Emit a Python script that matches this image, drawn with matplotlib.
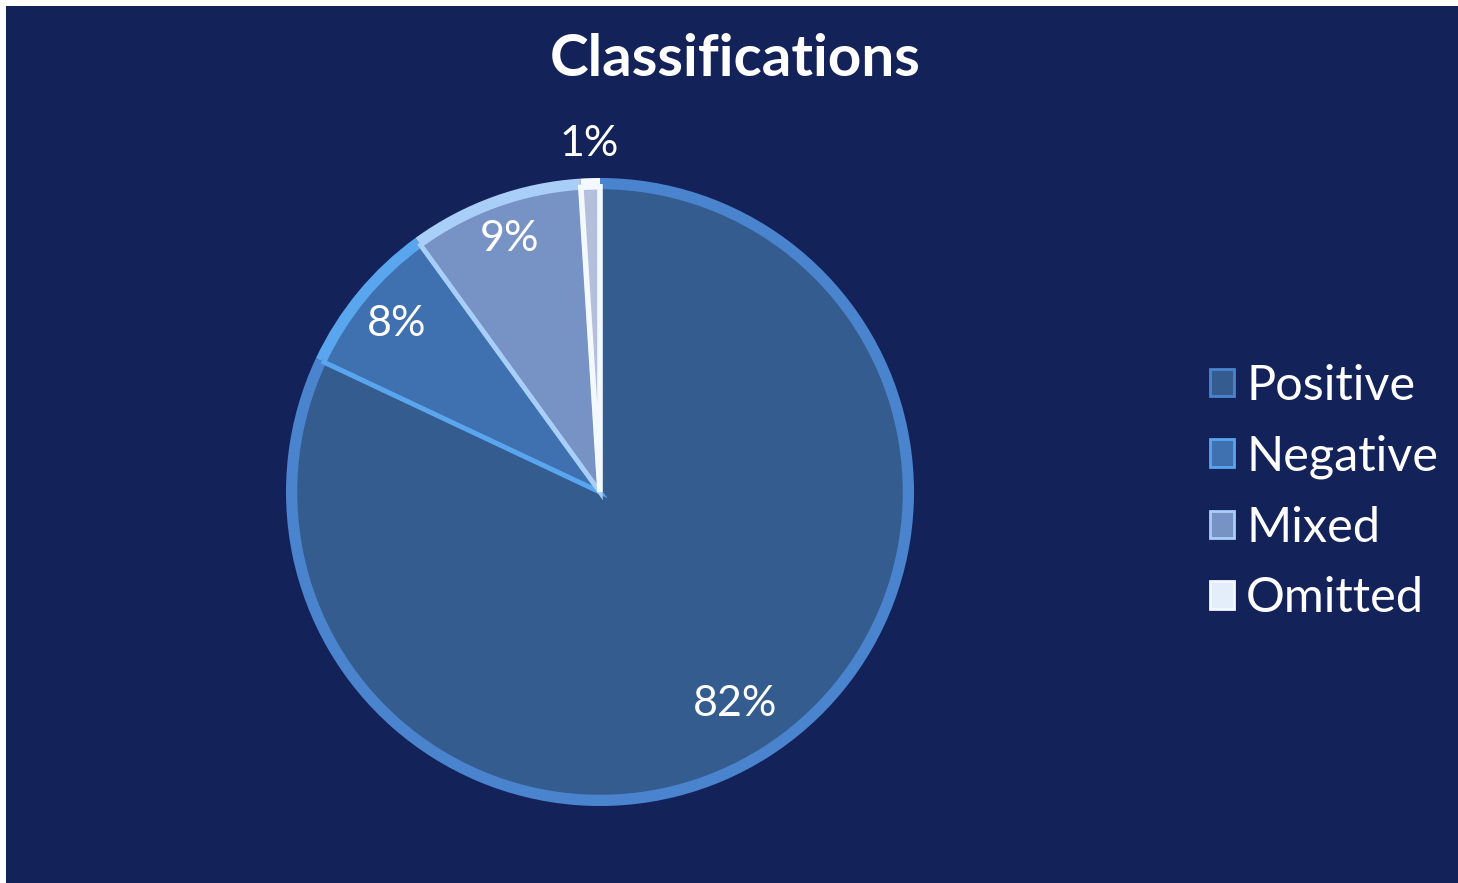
import numpy as np
import matplotlib.pyplot as plt
from matplotlib.patches import Patch, Rectangle

# share of each classification
categories = ["Positive", "Negative", "Mixed", "Omitted"]
shares = [82, 8, 9, 1]

face_colors = ["#355c8f", "#3f70b0", "#7793c6", "#e4eefb"]
rim_colors = ["#4a84cf", "#5aa6ee", "#a9cff8", "#f4f8ff"]
label_dist = [0.80, 0.84, 0.855, 1.11]

navy = "#14225a"
W, H = 1458, 883

plt.rcParams['font.family'] = ['Lato', 'DejaVu Sans']

fig = plt.figure(figsize=(W / 100, H / 100), dpi=100)
fig.patch.set_facecolor("white")
# dark panel behind everything (thin white margin top and left)
fig.add_artist(Rectangle((6 / W, 0), 1, (H - 6) / H, transform=fig.transFigure,
                         facecolor=navy, edgecolor="none", zorder=0))

cx, cy, r = 600, 492, 314
ax = fig.add_axes([(cx - r) / W, (H - cy - r) / H, 2 * r / W, 2 * r / H])
ax.set_facecolor("none")

# outer rim, then the slice faces slightly inset
rim, _ = ax.pie(shares, colors=rim_colors, startangle=90, counterclock=False,
                radius=1.0, wedgeprops=dict(linewidth=0))
faces, _ = ax.pie(shares, colors=face_colors, startangle=90, counterclock=False,
                  radius=0.972, wedgeprops=dict(linewidth=3.5))
for w, ec in zip(faces, rim_colors):
    w.set_edgecolor(ec)
faces[3].set_facecolor("#b3bfdb")
faces[3].set_edgecolor("#f4f8ff")
faces[3].set_linewidth(4)

for w, val, d in zip(faces, shares, label_dist):
    ang = np.deg2rad((w.theta1 + w.theta2) / 2)
    ax.text(d * np.cos(ang), d * np.sin(ang), f"{val}%", color="white",
            fontsize=31, ha="center", va="center")

ax.set_xlim(-1, 1)
ax.set_ylim(-1, 1)
ax.set_aspect("equal")
ax.axis("off")

fig.text(735 / W, 1 - 60 / H, "Classifications", color="white", fontsize=42,
         fontweight="bold", ha="center", va="center")

handles = [Patch(facecolor=fc, edgecolor=ec, linewidth=2)
           for fc, ec in zip(face_colors, rim_colors)]
leg = fig.legend(handles, categories, loc="center left",
                 bbox_to_anchor=(1166 / W, 1 - 492 / H), frameon=False,
                 fontsize=35, labelcolor="white", handlelength=0.5,
                 handleheight=0.5, handletextpad=0.25, labelspacing=0.55)

fig.savefig("out.png", dpi=100, facecolor=fig.get_facecolor())
